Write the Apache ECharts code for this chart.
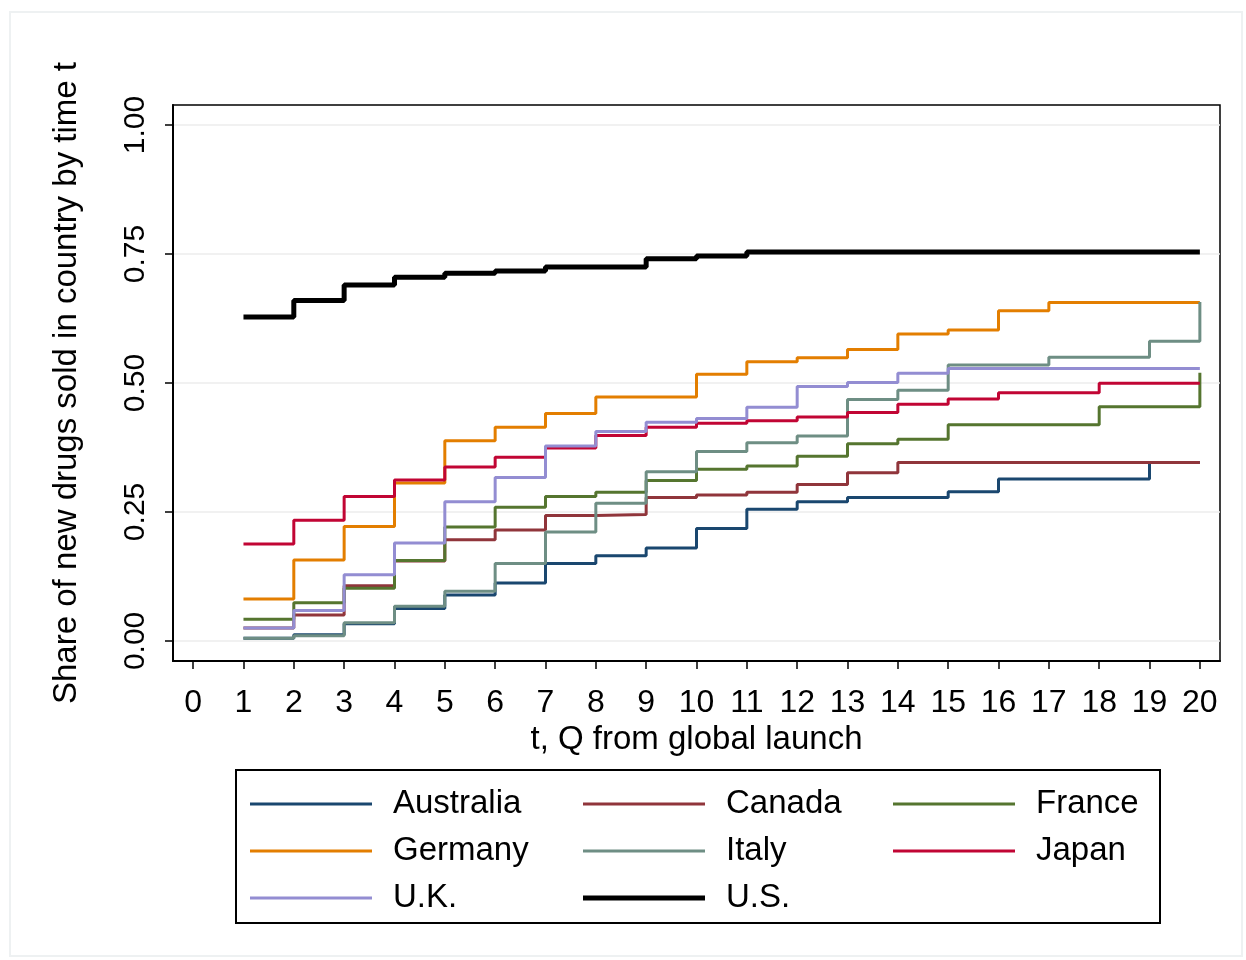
<!DOCTYPE html>
<html>
<head>
<meta charset="utf-8">
<script src="https://cdn.jsdelivr.net/npm/echarts@6/dist/echarts.min.js"></script>
<style>
  html, body { margin: 0; padding: 0; background: #ffffff; }
  #chart { width: 1246px; height: 960px; }
</style>
</head>
<body>
<div id="chart"></div>
<script>
// Quarters since global launch
const quarters = [1, 2, 3, 4, 5, 6, 7, 8, 9, 10, 11, 12, 13, 14, 15, 16, 17, 18, 19, 20];

// Cumulative share of new drugs sold in each country by quarter t
const australia = [0.005, 0.012, 0.033, 0.063, 0.089, 0.112, 0.150, 0.165, 0.180, 0.218, 0.255, 0.270, 0.278, 0.278, 0.289, 0.314, 0.314, 0.314, 0.346, 0.346];
const canada    = [0.025, 0.050, 0.107, 0.155, 0.196, 0.215, 0.243, 0.245, 0.278, 0.283, 0.288, 0.303, 0.326, 0.346, 0.346, 0.346, 0.346, 0.346, 0.346, 0.346];
const france    = [0.042, 0.074, 0.102, 0.156, 0.221, 0.259, 0.280, 0.288, 0.311, 0.333, 0.339, 0.358, 0.382, 0.391, 0.419, 0.419, 0.419, 0.454, 0.454, 0.520];
const germany   = [0.081, 0.157, 0.222, 0.306, 0.388, 0.414, 0.441, 0.473, 0.473, 0.517, 0.541, 0.549, 0.565, 0.595, 0.603, 0.640, 0.656, 0.656, 0.656, 0.656];
const italy     = [0.005, 0.010, 0.035, 0.067, 0.096, 0.150, 0.211, 0.267, 0.328, 0.367, 0.384, 0.397, 0.468, 0.486, 0.535, 0.535, 0.550, 0.550, 0.581, 0.657];
const japan     = [0.188, 0.234, 0.280, 0.312, 0.337, 0.356, 0.374, 0.398, 0.414, 0.422, 0.427, 0.434, 0.443, 0.459, 0.469, 0.481, 0.481, 0.4995, 0.4995, 0.4995];
const uk        = [0.025, 0.059, 0.128, 0.190, 0.270, 0.317, 0.378, 0.406, 0.424, 0.431, 0.453, 0.493, 0.501, 0.519, 0.528, 0.528, 0.528, 0.528, 0.528, 0.528];
const us        = [0.628, 0.660, 0.690, 0.705, 0.713, 0.717, 0.725, 0.725, 0.741, 0.746, 0.754, 0.754, 0.754, 0.754, 0.754, 0.754, 0.754, 0.754, 0.754, 0.754];

// Axis ticks
const xTicks = [0, 1, 2, 3, 4, 5, 6, 7, 8, 9, 10, 11, 12, 13, 14, 15, 16, 17, 18, 19, 20];
const yTicks = [0, 0.25, 0.5, 0.75, 1];

const FONT = 'Liberation Sans, Arial, Helvetica, sans-serif';

const seriesDefs = [
  { name: 'Australia', values: australia, color: '#1a476f', width: 3 },
  { name: 'Canada',    values: canada,    color: '#90353b', width: 3 },
  { name: 'France',    values: france,    color: '#55752f', width: 3 },
  { name: 'Germany',   values: germany,   color: '#e37e00', width: 3 },
  { name: 'Italy',     values: italy,     color: '#6e8e84', width: 3 },
  { name: 'Japan',     values: japan,     color: '#c10534', width: 3 },
  { name: 'U.K.',      values: uk,        color: '#938dd2', width: 3 },
  { name: 'U.S.',      values: us,        color: '#000000', width: 5 }
];

const series = seriesDefs.map(d => ({
  name: d.name,
  type: 'line',
  step: 'end',
  symbol: 'none',
  color: d.color,
  lineStyle: { color: d.color, width: d.width },
  data: quarters.map((q, i) => [q, d.values[i]]),
  animation: false,
  z: 3
}));

const legendText = { fontFamily: FONT, fontSize: 33, color: '#000', lineHeight: 36, padding: [0, 0, 0, 16] };
function legendCol(names, left, top, h) {
  return {
    data: names,
    orient: 'vertical',
    left: left,
    top: top,
    itemWidth: 122,
    itemHeight: h,
    itemGap: 11,
    icon: 'rect',
    selectedMode: false,
    textStyle: legendText,
    padding: 0
  };
}

const option = {
  backgroundColor: '#ffffff',
  animation: false,
  grid: {
    left: 173, right: 26, top: 105, bottom: 299,
    show: true, borderColor: '#000', borderWidth: 1.5, backgroundColor: '#fff'
  },
  xAxis: {
    type: 'value',
    min: -0.4,
    max: 20.4,
    name: 't, Q from global launch',
    nameLocation: 'middle',
    nameGap: 58,
    nameTextStyle: { fontFamily: FONT, fontSize: 33, color: '#000' },
    axisLine: { show: true, onZero: false, lineStyle: { color: '#000', width: 2 } },
    axisTick: { show: true, customValues: xTicks, length: 8, lineStyle: { color: '#000', width: 1.5 } },
    axisLabel: { customValues: xTicks, margin: 26, fontFamily: FONT, fontSize: 32, color: '#000' },
    splitLine: { show: false }
  },
  yAxis: {
    type: 'value',
    min: -0.039,
    max: 1.039,
    name: 'Share of new drugs sold in country by time t',
    nameLocation: 'middle',
    nameGap: 90,
    nameRotate: 90,
    nameTextStyle: { fontFamily: FONT, fontSize: 33, color: '#000' },
    axisLine: { show: true, onZero: false, lineStyle: { color: '#000', width: 2 } },
    axisTick: { show: true, customValues: yTicks, length: 8, lineStyle: { color: '#000', width: 1.5 } },
    axisLabel: {
      customValues: yTicks, rotate: 90, margin: 22,
      fontFamily: FONT, fontSize: 30, color: '#000',
      formatter: v => v.toFixed(2)
    },
    splitLine: { show: true, lineStyle: { color: '#ececec', width: 1.5 } }
  },
  legend: [
    legendCol(['Australia', 'Germany', 'U.K.'], 250, 786, 3),
    legendCol(['Canada', 'Italy'], 583, 786, 3),
    legendCol(['U.S.'], 583, 880, 5),
    legendCol(['France', 'Japan'], 893, 786, 3)
  ],
  graphic: [
    {
      type: 'rect', silent: true, z: -10,
      shape: { x: 10, y: 12, width: 1232, height: 944 },
      style: { fill: 'none', stroke: '#eef1f2', lineWidth: 2 }
    },
    {
      type: 'rect', silent: true,
      shape: { x: 236, y: 770, width: 924, height: 153 },
      style: { fill: 'none', stroke: '#000', lineWidth: 2 }
    }
  ],
  series: series
};

const chart = echarts.init(document.getElementById('chart'), null, { renderer: 'canvas' });
chart.setOption(option);
</script>
</body>
</html>
